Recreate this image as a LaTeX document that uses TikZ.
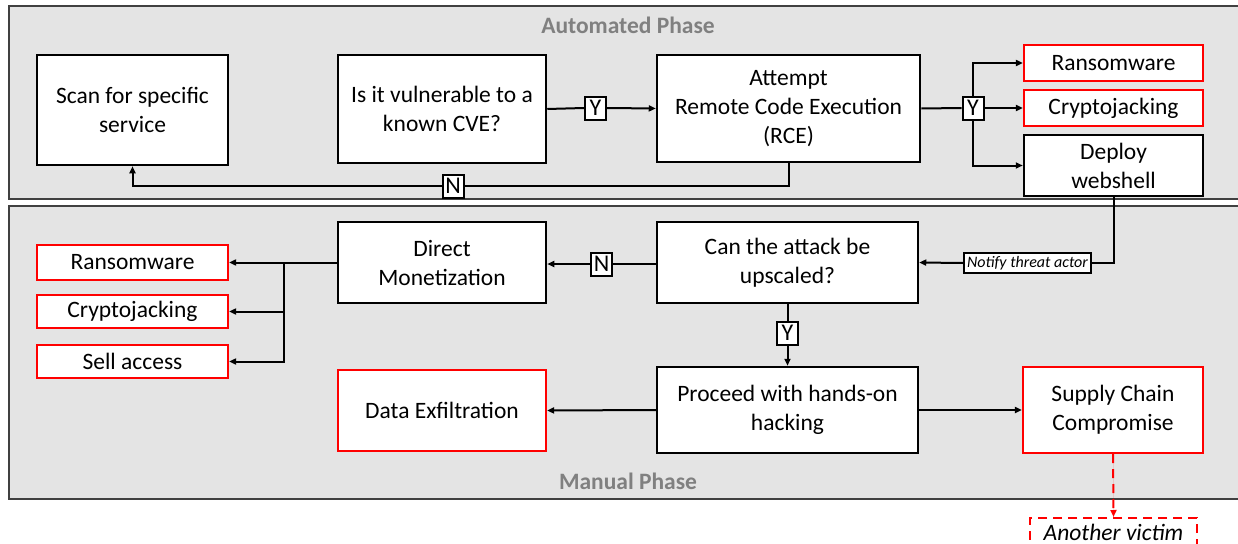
\documentclass[tikz,border=0pt]{standalone}
\usepackage{fontspec}
\setmainfont{Carlito}
\usetikzlibrary{arrows.meta}
\definecolor{panelfill}{RGB}{228,228,228}
\definecolor{panelline}{RGB}{64,64,64}
\definecolor{phasegray}{RGB}{128,128,128}
\definecolor{alertred}{RGB}{255,0,0}
\tikzset{
  panel/.style={draw=panelline, fill=panelfill, line width=1.8pt},
  stepbox/.style={draw=black, fill=white, line width=2.5pt, align=center, inner sep=2pt,
    font=\fontsize{23.5}{29}\selectfont},
  redbox/.style={stepbox, draw=alertred, line width=2.2pt},
  tag/.style={draw=black, fill=white, line width=2pt, minimum width=21pt, minimum height=23pt,
    inner sep=0pt, font=\fontsize{24}{24}\selectfont},
  arr/.style={line width=2pt, -{Triangle[length=7pt,width=6pt]}},
  conn/.style={line width=2pt},
  phase/.style={text=phasegray, font=\fontsize{23.5}{26}\selectfont\bfseries},
}
\begin{document}
\begin{tikzpicture}[x=1pt,y=-1pt]
\useasboundingbox (0,0) rectangle (1238,543);
% panels
\draw[panel] (9,6) rectangle (1250,199);
\draw[panel] (9,206) rectangle (1250,499);
\node[phase] (auto) at (628,25) {Automated Phase};
\node[phase] (manual) at (628,481) {Manual Phase};

% top row
\node[stepbox, minimum width=191pt, minimum height=110pt] (scan) at (132.5,110) {Scan for specific\\service};
\node[stepbox, minimum width=208pt, minimum height=108pt] (cve) at (442,109) {Is it vulnerable to a\\known CVE?};
\node[stepbox, minimum width=263pt, minimum height=107pt] (rce) at (788.5,108.5) {Attempt\\Remote Code Execution\\(RCE)};
\node[redbox, minimum width=179pt, minimum height=36pt] (ranstop) at (1113.5,63) {Ransomware};
\node[redbox, minimum width=179pt, minimum height=36pt] (cryptotop) at (1113.5,108) {Cryptojacking};
\node[stepbox, minimum width=179pt, minimum height=61pt] (webshell) at (1113.5,165.5) {Deploy\\webshell};

\node[tag] (y1) at (595.5,108) {Y};
\node[tag] (ytop) at (973,108) {Y};
\node[tag] (nfb) at (453,186) {N};

\draw[conn] (cve.east) -- (y1.west);
\draw[arr] (y1.east) -- (rce.west);
\draw[conn] (rce.east) -- (ytop.west);
\draw[arr] (ytop.east) -- (cryptotop.west);
\draw[arr] (ytop.north) |- (ranstop.west);
\draw[arr] (ytop.south) |- (webshell.west);
\draw[conn] (rce.south) |- (nfb.east);
\draw[arr] (nfb.west) -| (scan.south);

% bottom
\node[stepbox, minimum width=208pt, minimum height=81pt] (direct) at (442,262.5) {Direct\\Monetization};
\node[stepbox, minimum width=261pt, minimum height=81pt] (upscale) at (787.5,262.5) {Can the attack be\\upscaled?};
\node[redbox, minimum width=191pt, minimum height=35pt] (ransl) at (132.5,262.5) {Ransomware};
\node[redbox, minimum width=191pt, minimum height=33pt] (cryptol) at (132.5,311.5) {Cryptojacking};
\node[redbox, minimum width=191pt, minimum height=33pt] (sell) at (132.5,361.5) {Sell access};
\node[stepbox, minimum width=261pt, minimum height=86pt] (hands) at (787.5,410) {Proceed with hands-on\\hacking};
\node[redbox, minimum width=208pt, minimum height=81pt] (exfil) at (442,410.5) {Data Exfiltration};
\node[redbox, minimum width=180pt, minimum height=86pt] (supply) at (1113,410) {Supply Chain\\Compromise};
\node[draw=alertred, dashed, dash pattern=on 9pt off 6pt, line width=2pt, minimum width=167pt, minimum height=28pt,
  inner sep=1pt, font=\fontsize{23.5}{26}\selectfont\itshape, anchor=north] (victim) at (1113.5,517) {Another victim};

\node[draw=black, fill=white, line width=1.8pt, inner sep=3pt, minimum height=18pt,
  font=\fontsize{16}{18}\selectfont\itshape] (notify) at (1027.5,263) {Notify threat actor};
\node[tag] (n2) at (601.5,264) {N};
\node[tag] (y2) at (787.5,333) {Y};

\draw[conn] (webshell.south) |- (notify.east);
\draw[arr] (notify.west) -- (upscale.east);
\draw[conn] (upscale.west |- n2) -- (n2.east);
\draw[arr] (n2.west) -- (direct.east |- n2);
\draw[arr] (direct.west) -- (ransl.east);
\coordinate (jn) at (284,262.5);
\draw[arr] (jn) |- (cryptol.east);
\draw[arr] (jn) |- (sell.east);
\draw[conn] (upscale.south) -- (y2.north);
\draw[arr] (y2.south) -- (hands.north);
\draw[arr] (hands.west) -- (exfil.east);
\draw[arr] (hands.east) -- (supply.west);
\draw[arr, draw=alertred, fill=alertred, dashed, dash pattern=on 9pt off 6pt] (supply.south) -- (victim.north);
\end{tikzpicture}
\end{document}
